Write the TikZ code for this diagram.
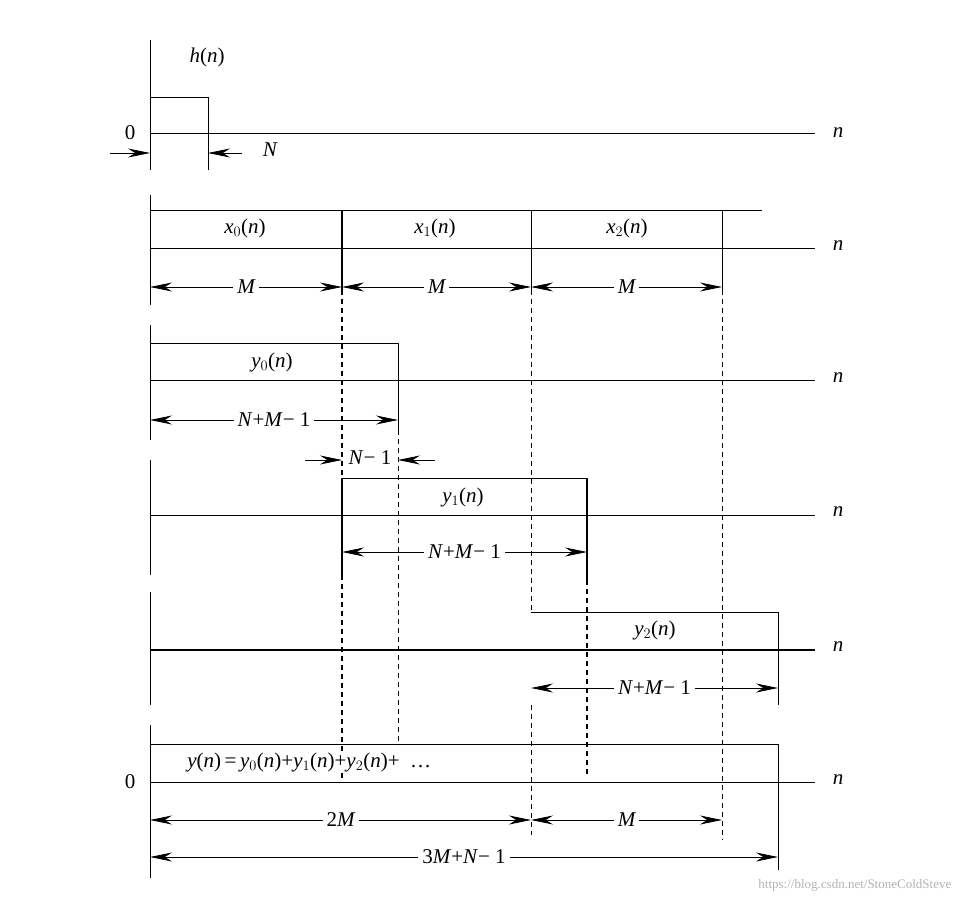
\documentclass[tikz,border=0pt]{standalone}
\usepackage{fontspec}
\setmainfont{Liberation Serif}
\usetikzlibrary{arrows.meta}
\begin{document}
\begin{tikzpicture}[x=1pt,y=-1pt,line width=0.8pt,
  lab/.style={font=\fontsize{21}{23}\selectfont\itshape,inner sep=1pt},
  dim/.style={fill=white,font=\fontsize{21}{23}\selectfont\itshape,inner sep=4pt},
  da/.style={{Stealth[length=22pt,width=9pt]}-{Stealth[length=22pt,width=9pt]}},
  ra/.style={-{Stealth[length=22pt,width=9pt]}},
  dsh/.style={dash pattern=on 5pt off 4pt}]
\useasboundingbox (0,0) rectangle (959,904);
% h(n)
\draw (150,40) -- (150,170);
\draw (150,133) -- (815,133);
\node[lab] at (838,133) {n};
\draw (150,97) -- (208,97) -- (208,170);
\node[lab] at (207,57) {h\textup{(}n\textup{)}};
\node[font=\fontsize{21}{23}\selectfont] at (130,133) {0};
\coordinate (ha) at (110,153); \coordinate (hb) at (150,153);
\coordinate (hc) at (242,153); \coordinate (hd) at (208,153);
\draw[ra] (ha) -- (hb); \draw[ra] (hc) -- (hd);
\node[lab] at (270,150) {N};
% x blocks
\draw (150,195) -- (150,305);
\draw (150,210) -- (762,210);
\draw (150,248) -- (815,248);
\node[lab] at (838,246) {n};
\draw[line width=1.4pt] (342,210) -- (342,290);
\draw (531,210) -- (531,290);
\draw (722,210) -- (722,290);
\node[lab] at (245,228) {x$_0$\textup{(}n\textup{)}};
\node[lab] at (435,228) {x$_1$\textup{(}n\textup{)}};
\node[lab] at (627,228) {x$_2$\textup{(}n\textup{)}};
\draw[da] (150,287) -- node[dim]{M} (342,287);
\draw[da] (342,287) -- node[dim]{M} (531,287);
\draw[da] (531,287) -- node[dim]{M} (722,287);
% dashed
\draw[dsh,line width=1.4pt] (342,290) -- (342,478);
\draw[dsh,line width=1.4pt] (342,575) -- (342,778);
\draw[dsh] (531,290) -- (531,612);
\draw[dsh] (531,705) -- (531,835);
\draw[dsh] (722,290) -- (722,840);
\draw[dsh] (398,430) -- (398,745);
\draw[dsh,line width=1.4pt] (587,580) -- (587,775);
% y0
\draw (150,325) -- (150,440);
\draw (150,343) -- (398,343) -- (398,430);
\draw (150,380) -- (815,380);
\node[lab] at (838,378) {n};
\node[lab] at (272,362) {y$_0$\textup{(}n\textup{)}};
\draw[da] (150,420) -- node[dim]{N\textup{+}M\textup{−}\ \textup{1}} (398,420);
% N-1
\draw[ra] (305,460) -- (342,460);
\draw[ra] (435,460) -- (398,460);
\node[lab] at (370,458) {N\textup{−}\ \textup{1}};
% y1
\draw (150,460) -- (150,575);
\draw (342,478) -- (587,478);
\draw[line width=1.4pt] (342,478) -- (342,575);
\draw[line width=1.4pt] (587,478) -- (587,580);
\draw (150,515) -- (815,515);
\node[lab] at (838,512) {n};
\node[lab] at (463,497) {y$_1$\textup{(}n\textup{)}};
\draw[da] (342,552) -- node[dim]{N\textup{+}M\textup{−}\ \textup{1}} (587,552);
% y2
\draw (150,592) -- (150,705);
\draw (531,612) -- (778,612) -- (778,705);
\draw[line width=1.6pt] (150,650) -- (815,650);
\node[lab] at (838,647) {n};
\node[lab] at (655,630) {y$_2$\textup{(}n\textup{)}};
\draw[da] (531,688) -- node[dim]{N\textup{+}M\textup{−}\ \textup{1}} (778,688);
% y
\draw (150,725) -- (150,878);
\draw (150,744) -- (778,744) -- (778,870);
\draw (150,782) -- (815,782);
\node[lab] at (838,780) {n};
\node[font=\fontsize{21}{23}\selectfont] at (130,782) {0};
\node[lab,fill=white,anchor=west] at (186,762) {y\textup{(}n\textup{)}\,\textup{=}\,y$_0$\textup{(}n\textup{)}\textup{+}y$_1$\textup{(}n\textup{)}\textup{+}y$_2$\textup{(}n\textup{)}\textup{+}\ \ \textup{…}};
\draw[da] (150,820) -- node[dim]{\textup{2}M} (531,820);
\draw[da] (531,820) -- node[dim]{M} (722,820);
\draw[da] (150,857) -- node[dim]{\textup{3}M\textup{+}N\textup{−}\ \textup{1}} (778,857);
\node[font=\fontsize{13}{15}\selectfont,text=gray!60,anchor=east] at (955,885) {https://blog.csdn.net/StoneColdSteve};
\end{tikzpicture}
\end{document}
